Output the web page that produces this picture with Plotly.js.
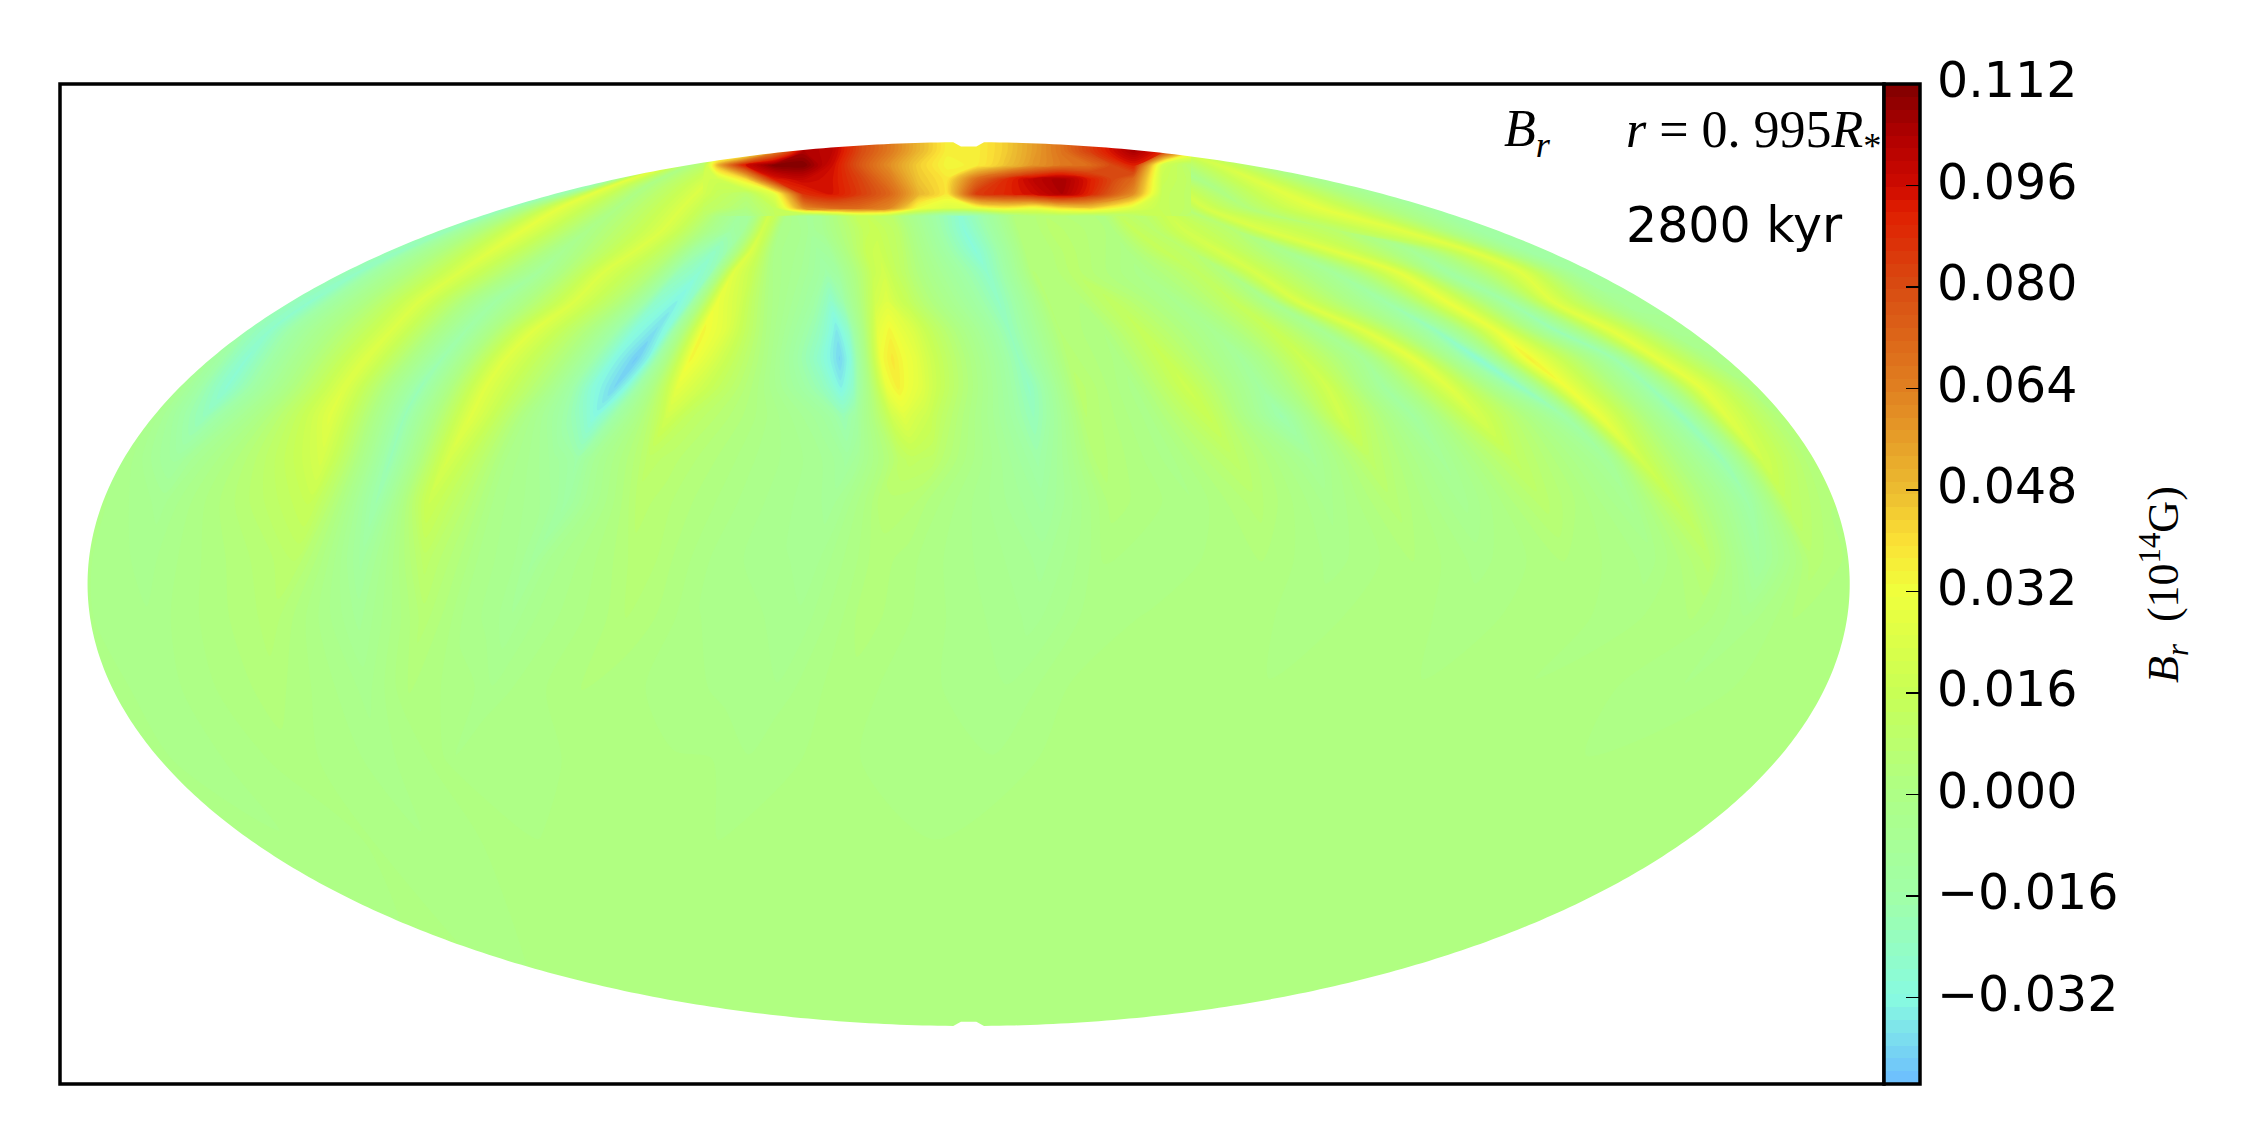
<!DOCTYPE html>
<html>
<head>
<meta charset="utf-8">
<script src="https://cdn.plot.ly/plotly-3.0.1.min.js"></script>
<style>body{margin:0;background:#fff}</style>
</head>
<body>
<div id="plot" style="width:2250px;height:1146px"></div>
<script>
// Positions are in pixels of the 1568 wide view of the map.
// Rows along which the field stripes were read
const stripeRowY = [100,115,130,145,160,175,190,210,230,250,270,290,320,350,390,430,480,530,590,720];

// x position of each stripe (ridge or trough) at every row, left to right
const stripeX = [
[20,20,20,20,20,20,20,20,20,20,20,20,20,20,20,20,20,20,20,20],
[440,420,380,335,300,268,238,200,170,145,122,105,88,73,62,62,85,115,180,260],
[470,450,410,355,315,280,250,217,189,172,158,142,122,113,104,103,118,145,205,300],
[490,465,425,390,365,342,320,292,273,255,240,230,224,216,205,190,190,205,260,340],
[510,480,450,430,410,392,375,345,325,308,293,282,272,262,252,250,255,265,300,380],
[530,510,490,475,462,442,420,400,372,352,338,328,312,299,296,295,285,300,340,420],
[545,525,510,497,485,470,455,435,413,395,380,365,352,345,335,325,315,310,370,450],
[555,535,520,507,497,484,472,457,442,428,413,399,385,380,358,342,330,314,375,460],
[565,545,530,518,510,498,487,472,457,443,428,414,402,394,372,356,342,318,380,470],
[573,553,538,526,518,506,495,480,465,451,436,422,410,402,380,364,350,326,388,478],
[575,560,548,538,531,523,511,500,490,481,472,465,452,445,442,436,405,400,430,500],
[582,567,554,544,537,531,525,515,505,496,487,480,468,462,457,450,425,420,450,515],
[590,575,560,550,544,540,538,536,535,533,530,530,525,520,500,485,470,470,480,530],
[600,585,570,557,555,558,560,566,570,572,573,575,572,560,545,530,510,495,490,540],
[610,595,580,565,565,570,576,579,583,585,586,588,590,579,568,555,540,520,500,550],
[616,603,588,573,573,578,584,587,591,593,594,596,598,587,576,563,548,528,508,558],
[618,606,592,592,602,604,608,610,612,614,618,622,627,612,606,597,582,562,552,592],
[620,610,600,600,610,612,616,618,620,622,626,630,635,620,614,605,590,570,560,600],
[630,625,620,620,625,628,630,633,636,638,642,646,650,638,632,625,610,595,590,640],
[660,660,665,668,672,680,688,696,703,710,717,720,723,726,726,720,700,690,650,700],
[700,700,702,705,710,715,720,730,738,745,752,757,765,775,770,760,745,725,700,740],
[708,708,710,715,722,730,735,752,768,780,790,800,815,830,820,800,780,760,725,760],
[715,718,720,725,735,745,750,775,795,812,827,842,860,875,880,860,820,790,750,780],
[725,730,745,765,775,785,795,820,845,865,878,893,915,925,930,910,880,850,800,820],
[735,745,760,775,790,810,835,860,887,908,925,935,955,970,985,970,930,880,830,850],
[745,760,775,790,805,830,855,885,920,950,965,985,1005,1020,1030,1020,985,920,860,880],
[755,775,790,810,825,850,875,905,950,985,1010,1030,1055,1075,1090,1080,1020,960,890,910],
[765,785,805,825,860,895,930,965,1000,1030,1060,1090,1120,1135,1150,1130,1060,1000,920,940],
[775,795,820,840,880,930,975,1008,1042,1066,1092,1115,1143,1168,1190,1180,1100,1040,950,970],
[785,815,845,870,930,985,1010,1050,1084,1125,1150,1172,1200,1218,1225,1215,1170,1100,1000,1000],
[800,850,885,920,975,1025,1060,1082,1122,1155,1185,1203,1228,1245,1262,1250,1210,1150,1050,1030],
[860,900,950,1000,1030,1065,1100,1130,1165,1195,1220,1240,1262,1275,1290,1280,1250,1190,1100,1060],
[1320,1320,1320,1320,1320,1320,1320,1320,1320,1320,1320,1320,1320,1320,1320,1320,1320,1320,1320,1320]
];

// B_r along each stripe, in units of 0.001 (10^14 G)
const stripeBr = [
[-14,-14,-16,-18,-18,-20,-20,-20,-18,-10,-4,-3,-2,-1,-1,-1,-1,-1,0,1],
[-14,-14,-16,-18,-18,-20,-20,-20,-18,-10,-4,-3,-2,-1,-1,-1,-1,-1,0,1],
[-16,-16,-18,-20,-20,-22,-24,-26,-26,-28,-28,-22,-12,-6,-4,-3,-2,-2,-1,1],
[28,28,28,28,28,26,24,24,24,25,25,26,22,16,9,6,4,2,1,1],
[0,0,0,0,-2,-6,-10,-14,-16,-18,-20,-20,-20,-18,-12,-8,-4,-2,-1,1],
[22,24,24,24,24,24,24,24,26,26,26,26,22,18,10,6,3,1,1,1],
[8,8,8,8,6,5,4,2,0,1,1,0,-1,-2,-2,-2,0,1,1,1],
[2,2,0,-2,-4,-14,-20,-26,-30,-32,-30,-20,-10,-8,-5,-4,-1,0,1,1],
[-6,-6,-8,-10,-14,-24,-28,-34,-38,-42,-40,-32,-16,-14,-10,-7,-3,-1,1,1],
[-4,-4,-6,-8,-10,-18,-22,-26,-30,-34,-32,-24,-10,-10,-6,-5,-2,0,1,1],
[20,20,20,20,20,24,26,30,34,34,28,20,10,8,6,5,3,1,1,1],
[12,12,12,12,12,12,14,20,26,24,20,12,8,6,5,4,2,1,1,1],
[4,4,2,0,-2,-2,-1,0,0,0,0,0,-1,-2,-2,-1,0,1,1,1],
[-4,-4,-6,-6,-4,-6,-8,-14,-22,-28,-22,-12,-7,-6,-5,-3,-2,1,1,1],
[-6,-6,-8,-8,-8,-12,-16,-26,-36,-40,-34,-20,-12,-8,-6,-5,-3,-1,1,1],
[-4,-4,-6,-6,-6,-10,-12,-18,-26,-30,-26,-14,-8,-6,-4,-4,-2,0,1,1],
[12,12,12,12,14,16,16,20,28,32,30,20,10,5,3,3,2,1,1,1],
[14,14,14,14,16,18,20,25,34,38,36,26,12,6,4,4,2,1,1,1],
[8,8,8,8,10,10,10,14,24,28,26,18,10,5,2,2,1,1,1,1],
[-24,-26,-28,-28,-30,-30,-26,-24,-22,-22,-24,-22,-16,-12,-8,-6,-3,-1,1,1],
[6,6,6,4,4,4,5,5,5,6,8,7,6,4,1,0,1,1,1,1],
[5,5,5,4,4,4,4,3,1,0,-2,-2,-2,-1,0,1,1,1,1,1],
[6,6,6,6,8,8,8,12,14,16,18,16,10,6,3,2,1,1,1,1],
[2,2,2,2,2,0,-2,-4,-6,-10,-12,-18,-8,-4,-2,0,1,1,1,1],
[10,10,10,12,14,14,12,14,16,18,20,20,10,6,3,2,1,1,1,1],
[0,0,2,6,8,8,2,-4,-6,-8,-12,-12,-8,-6,-2,0,1,1,1,1],
[14,14,14,18,20,22,22,24,26,28,26,22,12,8,3,2,1,1,1,1],
[0,0,2,4,6,-4,-10,-16,-22,-28,-24,-16,-10,-6,-2,0,1,1,1,1],
[18,18,20,22,24,26,28,30,30,36,32,30,20,14,8,3,2,1,1,1],
[-8,-4,0,4,8,-8,-14,-16,-20,-18,-20,-22,-20,-16,-12,-3,-1,1,1,1],
[18,22,26,28,26,26,26,26,28,28,28,26,20,12,6,3,1,1,1,1],
[-12,-12,-12,-14,-14,-14,-12,-8,-6,-2,2,3,3,3,2,1,1,1,1,1],
[-12,-12,-12,-14,-14,-14,-12,-8,-6,-2,2,3,3,3,2,1,1,1,1,1]
];

// strong polar patch, read on a plain grid
const capX = [489.89,500,520,540,560,580,600,620,640,660,680,700,720,740,760,790,810,829.96];
const capY = [95,105,115,125,135,145,150.49];
const capBr = [
[8,8,10,60,104,100,80,66,50,36,36,44,56,68,84,106,90,40],
[8,8,10,60,104,100,80,66,50,36,36,44,56,68,84,106,90,40],
[8,50,96,112,112,96,76,60,44,34,36,46,58,66,70,92,20,7],
[20,18,40,92,98,94,82,66,46,38,70,88,100,106,92,70,16,10],
[20,14,8,28,88,94,84,72,50,38,84,90,96,104,90,60,14,10],
[13,10,2,14,60,70,70,62,32,24,28,36,30,40,44,24,14,10],
[9,1,-4,13,-6,1,14,10,-6,-22,-21,-5,5,6,3,9,16,7]
];

// colour bar
const zMin = -0.0456;
const zMax = 0.112;
const colorVals = [-0.0456,-0.032,-0.016,0.001,0.016,0.032,0.040,0.048,0.064,0.080,0.092,0.096,0.104,0.112];
const colorHex = ['#6cbcff','#88fbe0','#a0ffa8','#afff84','#c8ff55','#f0ff3c','#fbe035','#ecbc30','#e08020','#d84c12','#e01e00','#cd0a00','#b00000','#800000'];
const tickVals = [-0.032,-0.016,0,0.016,0.032,0.048,0.064,0.08,0.096,0.112];
const tickText = ['\u22120.032','\u22120.016','0.000','0.016','0.032','0.048','0.064','0.080','0.096','0.112'];

let colorscale = colorVals.map((v, i) => [(v - zMin) / (zMax - zMin), colorHex[i]]);
let levels = {coloring: 'fill', showlines: false, start: zMin, end: zMax, size: 0.00202};

// carpet wants rows first, the tables above are per stripe
let aIdx = stripeX.map((c, i) => i);
let bIdx = stripeRowY.map((c, i) => i);
let carpetX = bIdx.map(j => aIdx.map(i => stripeX[i][j]));
let carpetY = bIdx.map(j => aIdx.map(() => stripeRowY[j]));
let carpetZ = bIdx.map(j => aIdx.map(i => stripeBr[i][j] / 1000));
let capZ = capBr.map(r => r.map(v => v / 1000));

// white mask with an elliptical hole, the projection boundary
let cx = 675, cy = 407, ax = 614, ay = 308;
let xr = [41.8, 1312.9], yr = [755.4, 58.5];
let holePath = '';
for (let i = 0; i < 720; i++) {
    let t = i / 720 * 2 * Math.PI;
    let px = cx + ax * Math.cos(t);
    let py = cy + ay * Math.sin(t);
    // small notch at both poles
    if (Math.abs(px - 673) < 8) py -= Math.sign(Math.sin(t)) * 3;
    holePath += (i === 0 ? 'M' : 'L') + px.toFixed(2) + ',' + py.toFixed(2);
}
let maskPath = `M${xr[0]},${yr[1]}L${xr[1]},${yr[1]}L${xr[1]},${yr[0]}L${xr[0]},${yr[0]}Z` + holePath + 'Z';

let hiddenAxis = {showgrid: false, showline: false, startline: false, endline: false,
    showticklabels: 'none', minorgridcount: 0, smoothing: 1, type: 'linear'};

let carpet = {
    type: 'carpet',
    carpet: 'stripes',
    a: aIdx,
    b: bIdx,
    x: carpetX,
    y: carpetY,
    aaxis: hiddenAxis,
    baxis: hiddenAxis,
    hoverinfo: 'skip'
};

let stripes = {
    type: 'contourcarpet',
    carpet: 'stripes',
    a: aIdx,
    b: bIdx,
    z: carpetZ,
    zmin: zMin,
    zmax: zMax,
    autocontour: false,
    colorscale: colorscale,
    contours: levels,
    line: {width: 0, smoothing: 0.8},
    hoverinfo: 'skip',
    colorbar: {
        x: 1, xanchor: 'left', xpad: 0, y: 0.5, yanchor: 'middle', ypad: 0,
        len: 1, lenmode: 'fraction', thickness: 36, thicknessmode: 'pixels',
        outlinewidth: 3.5, outlinecolor: '#000', borderwidth: 0,
        ticks: 'inside', ticklen: 15, tickwidth: 1.5, tickcolor: '#000',
        tickmode: 'array', tickvals: tickVals, ticktext: tickText,
        tickfont: {family: 'DejaVu Sans', size: 49, color: '#000'}
    }
};

let cap = {
    type: 'contour',
    x: capX,
    y: capY,
    z: capZ,
    zmin: zMin,
    zmax: zMax,
    colorscale: colorscale,
    showscale: false,
    contours: levels,
    line: {width: 0, smoothing: 0.8},
    hoverinfo: 'skip'
};

let serif = 'Liberation Serif';
let layout = {
    width: 2250,
    height: 1146,
    margin: {l: 60, r: 366, t: 84, b: 62, pad: 0},
    paper_bgcolor: '#fff',
    plot_bgcolor: '#fff',
    showlegend: false,
    xaxis: {range: xr, visible: false, fixedrange: true},
    yaxis: {range: yr, visible: false, fixedrange: true},
    shapes: [
        {type: 'path', path: maskPath, fillrule: 'evenodd', fillcolor: '#fff', line: {width: 0}, layer: 'above'},
        {type: 'rect', xref: 'paper', yref: 'paper', x0: 0, x1: 1, y0: 0, y1: 1, line: {color: '#000', width: 3.5}, layer: 'above'}
    ],
    annotations: [
        {x: 1047, y: 92, xanchor: 'left', yanchor: 'middle', showarrow: false,
         text: '<i>B</i><sub><i>r</i></sub>', font: {family: serif, size: 52, color: '#000'}},
        {x: 1132, y: 93, xanchor: 'left', yanchor: 'middle', showarrow: false,
         text: '<i>r</i> = 0. 995<i>R</i><sub>*</sub>', font: {family: serif, size: 52, color: '#000'}},
        {x: 1132, y: 157, xanchor: 'left', yanchor: 'middle', showarrow: false,
         text: '2800 kyr', font: {family: 'DejaVu Sans', size: 49, color: '#000'}},
        {x: 1.1535, xref: 'paper', y: 0.5, yref: 'paper', xanchor: 'center', yanchor: 'middle', showarrow: false, textangle: -90,
         text: '<i>B</i><sub><i>r</i></sub>  (10<sup>14</sup>G)', font: {family: serif, size: 44, color: '#000'}}
    ]
};

Plotly.newPlot('plot', [carpet, stripes, cap], layout, {staticPlot: true, displayModeBar: false}).then(gd => {
    // nudge the colour bar labels to where the original has them
    gd.querySelectorAll('.colorbar text').forEach(t => {
        t.setAttribute('transform', (t.getAttribute('transform') || '') + ' translate(5,-4)');
    });
});
</script>
</body>
</html>
